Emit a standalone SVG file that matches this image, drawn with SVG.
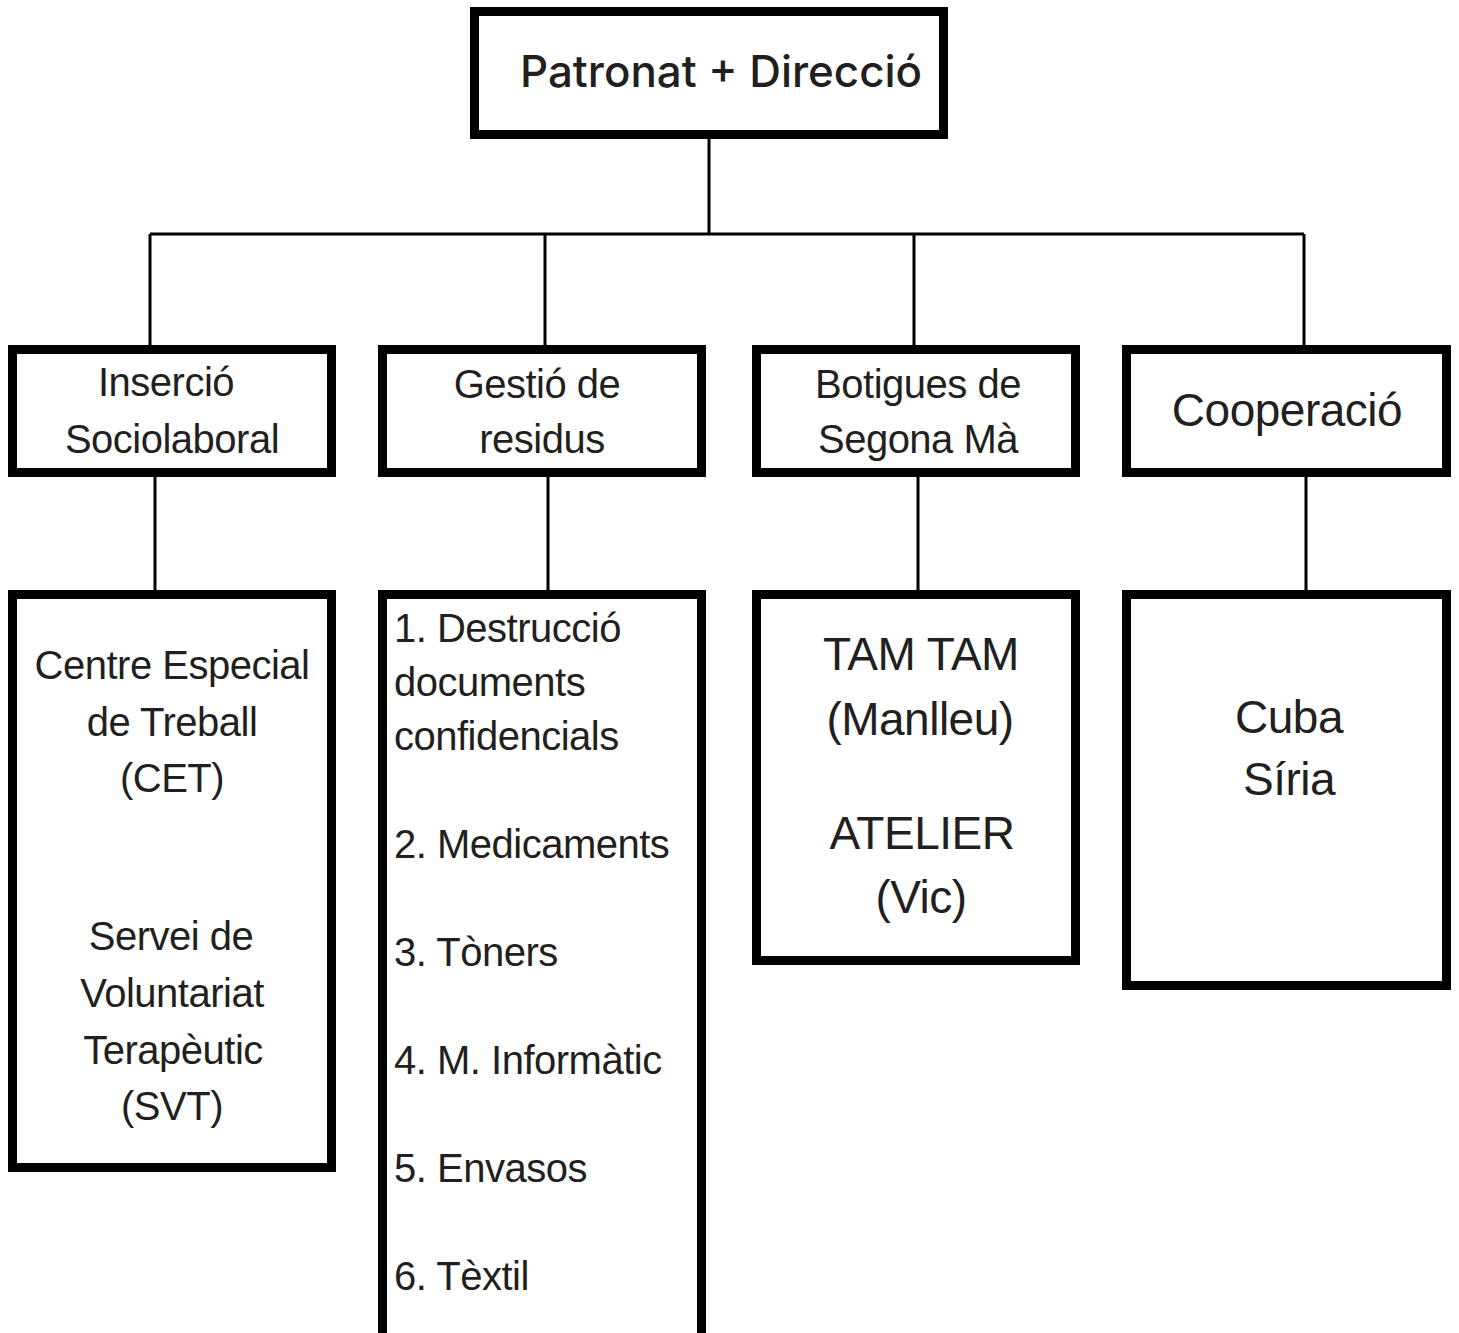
<svg xmlns="http://www.w3.org/2000/svg" width="1459" height="1333" viewBox="0 0 1459 1333">
<style>
.box{fill:#fff;stroke:#000;stroke-width:9}
.ln{stroke:#000;stroke-width:3;fill:none}
text{font-family:"Liberation Sans",Arial,sans-serif;fill:#231f20;font-size:40px;letter-spacing:-0.5px}
.c{text-anchor:middle}
.big{font-size:46px}
.top{font-family:"Inter","Liberation Sans",sans-serif;font-weight:500;font-size:44px;letter-spacing:0}
</style>
<g id="connectors">
<path class="ln" d="M709 139V234M150 234H1304M150 234V347M545 234V347M914 234V347M1304 234V347"/>
<path class="ln" d="M155 477V592M548 477V592M918 477V592M1306 477V592"/>
</g>
<g id="patronat">
<rect class="box" x="474.5" y="11.5" width="469" height="123"/>
<text class="top" x="520" y="87" textLength="402" lengthAdjust="spacingAndGlyphs">Patronat + Direcció</text>
</g>
<g id="insercio">
<rect class="box" x="12.5" y="349.5" width="319" height="123"/>
<text class="c" x="166" y="396">Inserció</text>
<text class="c" x="172" y="453">Sociolaboral</text>
</g>
<g id="gestio">
<rect class="box" x="382.5" y="349.5" width="319" height="123"/>
<text class="c" x="537" y="398">Gestió de</text>
<text class="c" x="542" y="453">residus</text>
</g>
<g id="botigues">
<rect class="box" x="756.5" y="349.5" width="319" height="123"/>
<text class="c" x="918" y="398">Botigues de</text>
<text class="c" x="918" y="453">Segona Mà</text>
</g>
<g id="cooperacio">
<rect class="box" x="1126.5" y="349.5" width="320" height="123"/>
<text class="c big" x="1287" y="426">Cooperació</text>
</g>
<g id="cet">
<rect class="box" x="12.5" y="594.5" width="319" height="573"/>
<text class="c" x="172" y="679">Centre Especial</text>
<text class="c" x="172" y="736">de Treball</text>
<text class="c" x="172" y="792">(CET)</text>
<text class="c" x="171" y="950">Servei de</text>
<text class="c" x="172" y="1007">Voluntariat</text>
<text class="c" x="173" y="1064">Terapèutic</text>
<text class="c" x="172" y="1120">(SVT)</text>
</g>
<g id="residus-list">
<rect class="box" x="382.5" y="594.5" width="319" height="760"/>
<text x="394" y="642">1. Destrucció</text>
<text x="394" y="696">documents</text>
<text x="394" y="750">confidencials</text>
<text x="394" y="858">2. Medicaments</text>
<text x="394" y="966">3. Tòners</text>
<text x="394" y="1074">4. M. Informàtic</text>
<text x="394" y="1182">5. Envasos</text>
<text x="394" y="1290">6. Tèxtil</text>
</g>
<g id="botigues-list">
<rect class="box" x="756.5" y="594.5" width="319" height="366"/>
<text class="c big" x="921" y="670">TAM TAM</text>
<text class="c big" x="920" y="735">(Manlleu)</text>
<text class="c big" x="922" y="849">ATELIER</text>
<text class="c big" x="921" y="913">(Vic)</text>
</g>
<g id="cooperacio-list">
<rect class="box" x="1126.5" y="594.5" width="320" height="391"/>
<text class="c big" x="1289" y="733">Cuba</text>
<text class="c big" x="1289" y="795">Síria</text>
</g>
</svg>
